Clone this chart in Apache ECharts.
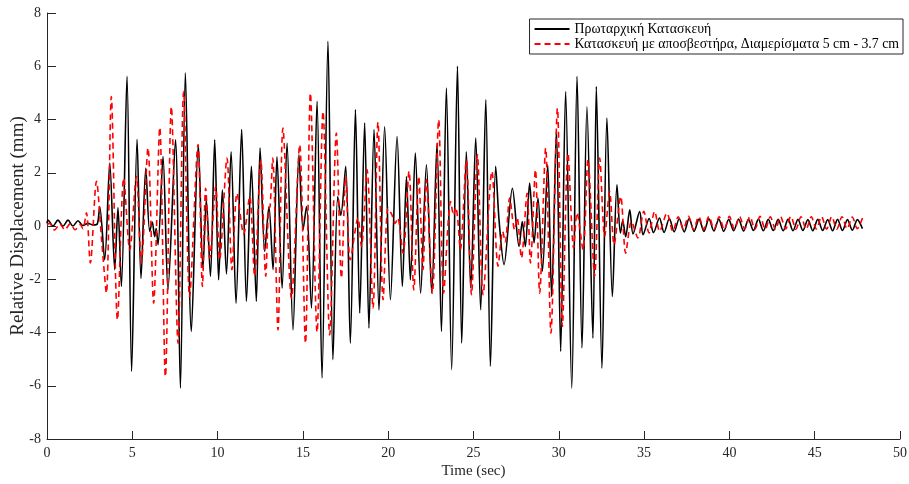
<!DOCTYPE html>
<html>
<head>
<meta charset="utf-8">
<script src="https://cdn.jsdelivr.net/npm/echarts@6/dist/echarts.min.js"></script>
<style>
html,body{margin:0;padding:0;background:#fff;}
#chart{width:909px;height:484px;}
</style>
</head>
<body>
<div id="chart"></div>
<script>
// Axis settings
var xMin = 0, xMax = 50, xStep = 5;
var yMin = -8, yMax = 8, yStep = 2;

var seriesNames = ['Πρωταρχική Κατασκευή', 'Κατασκευή με αποσβεστήρα, Διαμερίσματα 5 cm - 3.7 cm'];

// Original structure: [time (sec), displacement (mm)] turning points
var originalPoints = [
 [0,0.1],[0.06,0.22],[0.35,0.0],[0.64,0.22],[0.94,0.0],[1.23,0.22],[1.52,0.0],[1.82,0.2],[2.1,0.02],[2.4,0.1],[2.7,0.04],[2.95,0.08],
 [3.09,0.73],[3.38,-1.27],[3.68,2.36],[3.97,-1.64],[4.16,0.69],[4.36,-2.27],[4.69,5.62],[4.96,-5.46],[5.28,3.26],[5.51,-1.97],[5.79,2.18],
 [6.02,-0.2],[6.17,0.15],[6.31,-0.4],[6.4,-0.1],[6.51,-0.7],[6.8,2.61],[7.09,-2.39],[7.53,3.24],[7.82,-6.09],[8.11,5.75],[8.46,-3.96],
 [8.87,3.05],[9.14,-1.58],[9.34,0.99],[9.58,-1.89],[9.83,3.24],[10.06,-2.02],[10.28,1.36],[10.52,-1.8],[10.79,2.79],[11.08,-2.9],
 [11.41,3.62],[11.69,-2.83],[11.98,2.24],[12.27,-2.83],[12.49,2.93],[12.76,-0.95],[13.01,0.73],[13.25,-1.64],[13.48,2.6],[13.78,-2.33],
 [14.07,3.11],[14.42,-3.9],[14.77,2.67],[15.01,-0.14],[15.21,0.73],[15.5,-3.08],[15.83,4.68],[16.12,-5.71],[16.47,6.94],[16.76,-5.02],
 [17.04,1.11],[17.22,0.4],[17.51,2.24],[17.78,-4.4],[18.08,4.37],[18.33,-3.27],[18.62,3.87],[18.87,-3.83],[19.17,3.62],[19.46,-3.15],
 [19.79,3.73],[20.13,-2.77],[20.52,3.36],[20.83,-2.27],[21.07,1.86],[21.3,-2.02],[21.59,2.74],[21.9,-2.52],[22.24,2.3],[22.55,-2.52],
 [22.86,3.11],[23.12,-3.96],[23.41,5.18],[23.72,-5.4],[24.06,6.0],[24.31,-4.4],[24.58,2.79],[24.84,-2.33],[25.13,3.3],[25.42,-3.15],
 [25.72,4.74],[25.99,-5.27],[26.3,2.24],[26.5,0.2],[26.79,-1.45],[27.28,1.42],[27.67,-0.77],[27.86,0.17],[28.04,-0.77],[28.29,1.61],[28.55,-0.64],
 [28.78,1.05],[29.04,-1.7],[29.35,2.3],[29.58,-2.65],[29.86,3.62],[30.11,-4.71],[30.4,5.05],[30.76,-6.09],[31.07,5.62],[31.36,-4.58],
 [31.65,4.48],[32.0,-4.21],[32.2,5.24],[32.53,-5.34],[32.82,4.05],[33.14,-2.65],[33.41,1.55],[33.61,-0.26],[33.75,0.2],[33.92,-0.4],
 [34.16,0.61],[34.35,-0.3],[34.74,0.54],[34.94,-0.33],
 [35.3,0.28],[35.55,-0.25],[35.9,0.3],[36.17,-0.24],[36.48,0.28],[36.76,-0.22],[37.06,0.27],[37.35,-0.22],[37.64,0.28],[37.93,-0.2],
 [38.22,0.26],[38.51,-0.2],[38.8,0.27],[39.09,-0.19],[39.38,0.26],[39.67,-0.2],[39.96,0.25],[40.25,-0.18],[40.54,0.26],[40.83,-0.19],
 [41.12,0.25],[41.41,-0.17],[41.7,0.26],[41.99,-0.18],[42.28,0.25],[42.57,-0.17],[42.86,0.25],[43.15,-0.18],[43.44,0.26],[43.73,-0.18],
 [44.02,0.25],[44.31,-0.17],[44.6,0.24],[44.89,-0.18],[45.18,0.25],[45.47,-0.17],[45.76,0.24],[46.05,-0.18],[46.34,0.25],[46.63,-0.17],
 [46.92,0.24],[47.21,-0.16],[47.5,0.24],[47.8,-0.1]
];

// Structure with damper: [time (sec), displacement (mm)]
var damperPoints = [
 [0,0.05],[0.15,0.1],[0.45,-0.15],[0.75,0.08],[1.05,-0.15],[1.35,0.08],[1.65,-0.14],[1.95,0.05],[2.1,-0.1],
 [2.31,0.5],[2.54,-1.39],[2.9,1.68],[3.21,-0.6],[3.48,-2.52],[3.77,4.86],[4.13,-3.52],[4.5,1.8],[4.85,-0.9],[5.24,1.86],[5.53,-1.39],
 [5.92,2.93],[6.25,-2.9],[6.61,3.7],[6.94,-5.65],[7.29,4.48],[7.68,-4.4],[8.01,5.05],[8.36,-2.65],[8.85,3.05],[9.11,-2.27],[9.3,1.42],
 [9.54,-1.2],[9.89,1.49],[10.12,-1.27],[10.55,2.55],[10.84,-1.64],[11.14,1.23],[11.53,-0.3],[11.88,1.11],[12.17,-1.89],[12.53,2.49],
 [12.82,-1.89],[12.98,0.6],[13.08,0.75],[13.23,2.55],[13.54,-3.9],[13.83,3.68],[14.33,-2.71],[14.81,3.05],[15.15,-4.4],[15.44,4.99],
 [15.83,-3.99],[16.18,4.3],[16.57,-4.09],[16.96,3.49],[17.26,-1.95],[17.51,1.86],[17.78,-1.27],[18.23,0.3],[18.43,-0.77],[18.76,2.11],
 [19.11,-3.08],[19.4,3.9],[19.7,-2.77],[19.99,0.67],[20.2,0.45],[20.41,0.1],[20.56,0.3],[20.87,-1.02],[21.22,2.05],[21.5,-2.4],
 [21.79,1.86],[22.04,-1.64],[22.24,1.74],[22.59,-2.52],[22.96,3.99],[23.25,-2.52],[23.66,0.92],[23.84,0.4],[23.96,0.7],[24.07,0.3],
 [24.23,-0.89],[24.58,2.49],[24.88,-2.58],[25.23,2.67],[25.56,-2.58],[26.08,2.05],[26.44,-1.51],[26.71,-0.2],[26.86,-0.6],[27.12,1.05],
 [27.41,-0.14],[27.56,0.3],[27.81,-1.2],[28.14,1.23],[28.34,-1.39],[28.63,2.11],[28.88,-2.52],[29.23,2.93],[29.54,-4.02],[29.92,4.42],
 [30.21,-3.77],[30.54,2.74],[30.87,-0.83],[31.07,0.5],[31.42,-0.89],[31.71,2.49],[32.1,-1.89],[32.4,2.55],[32.69,-0.39],[32.98,1.29],
 [33.24,-0.7],[33.63,1.11],[33.92,-1.02],[34.26,0.17],[34.64,-0.45],[34.98,0.55],[35.29,-0.26],[35.62,0.55],[35.91,-0.2],[36.34,0.48],
 [36.69,-0.2],[37.0,0.35],[37.3,-0.12],[37.6,0.36],[37.9,-0.13],[38.2,0.35],[38.5,-0.12],[38.8,0.36],[39.1,-0.12],[39.4,0.35],
 [39.7,-0.13],[40.0,0.36],[40.3,-0.12],[40.6,0.35],[40.9,-0.11],[41.2,0.35],[41.5,-0.12],[41.8,0.36],[42.1,-0.12],[42.4,0.35],
 [42.7,-0.12],[43.0,0.35],[43.3,-0.11],[43.6,0.36],[43.9,-0.12],[44.2,0.35],[44.5,-0.12],[44.8,0.35],[45.1,-0.11],[45.4,0.36],
 [45.7,-0.12],[46.0,0.35],[46.3,-0.12],[46.6,0.35],[46.9,-0.11],[47.2,0.34],[47.5,-0.1],[47.8,0.3]
];

var FONT = '"Liberation Serif", "Times New Roman", serif';
var AXIS_COLOR = '#262626';

var chart = echarts.init(document.getElementById('chart'), null, {renderer: 'canvas'});
chart.setOption({
  animation: false,
  backgroundColor: '#ffffff',
  grid: {left: 47, right: 9, top: 13, bottom: 45, containLabel: false, outerBoundsMode: 'none'},
  legend: {
    orient: 'vertical',
    right: 6,
    top: 19,
    data: seriesNames,
    itemWidth: 35,
    itemHeight: 12,
    itemGap: 1,
    padding: [3, 4, 3, 4],
    borderColor: AXIS_COLOR,
    borderWidth: 1,
    borderRadius: 0,
    backgroundColor: '#ffffff',
    itemStyle: {opacity: 0},
    textStyle: {fontFamily: FONT, fontSize: 13.8, color: '#000', lineHeight: 13}
  },
  xAxis: {
    type: 'value',
    min: xMin, max: xMax, interval: xStep,
    name: 'Time (sec)',
    nameLocation: 'middle',
    nameGap: 25,
    nameMoveOverlap: false,
    nameTextStyle: {fontFamily: FONT, fontSize: 15, color: AXIS_COLOR},
    axisLine: {onZero: false, lineStyle: {color: AXIS_COLOR, width: 1}},
    axisTick: {inside: true, length: 8, lineStyle: {color: AXIS_COLOR}},
    axisLabel: {fontFamily: FONT, fontSize: 14, color: AXIS_COLOR, margin: 7},
    splitLine: {show: false}
  },
  yAxis: {
    type: 'value',
    min: yMin, max: yMax, interval: yStep,
    name: 'Relative Displacement (mm)',
    nameLocation: 'middle',
    nameGap: 19,
    nameMoveOverlap: false,
    nameTextStyle: {fontFamily: FONT, fontSize: 19, color: AXIS_COLOR},
    axisLine: {show: true, onZero: false, lineStyle: {color: AXIS_COLOR, width: 1}},
    axisTick: {show: true, inside: true, length: 9, lineStyle: {color: AXIS_COLOR}},
    axisLabel: {fontFamily: FONT, fontSize: 14, color: AXIS_COLOR, margin: 6},
    splitLine: {show: false}
  },
  series: [
    {
      name: seriesNames[0],
      type: 'line',
      data: originalPoints,
      symbol: 'none',
      smooth: 0.3,
      lineStyle: {color: '#000000', width: 1.6},
      itemStyle: {color: '#000000'},
      z: 2
    },
    {
      name: seriesNames[1],
      type: 'line',
      data: damperPoints,
      symbol: 'none',
      smooth: 0.3,
      lineStyle: {color: '#ff0000', width: 1.6, type: [6, 4]},
      itemStyle: {color: '#ff0000'},
      z: 3
    }
  ]
});
</script>
</body>
</html>
